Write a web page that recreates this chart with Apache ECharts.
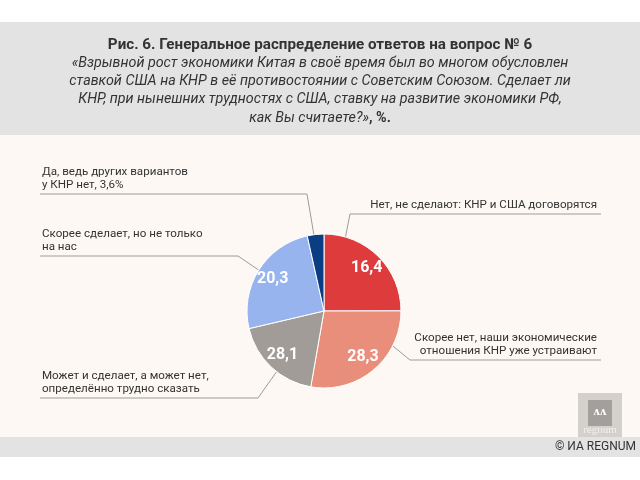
<!DOCTYPE html>
<html><head><meta charset="utf-8">
<script src="https://cdn.jsdelivr.net/npm/echarts@6/dist/echarts.min.js"></script>
<style>html,body{margin:0;padding:0;background:#fff}#c{width:640px;height:480px}</style>
</head><body><div id="c"></div>
<script>
// ---- data ----
const categories = [
  'Нет, не сделают: КНР и США договорятся',
  'Скорее нет, наши экономические\nотношения КНР уже устраивают',
  'Может и сделает, а может нет,\nопределённо трудно сказать',
  'Скорее сделает, но не только\nна нас',
  'Да, ведь других вариантов\nу КНР нет, 3,6%'
];
// values printed on the slices
const printedValues = ['16,4', '28,3', '28,1', '20,3', ''];
// slice sizes as actually drawn in the reference (measured slice angles, %)
const sliceShares = [25.0, 27.8, 18.6, 25.2, 3.5];
const colors = ['#de3b3d', '#ea8e7c', '#a19c97', '#97b4ee', '#0b3d83'];

const titleLine = 'Рис. 6. Генеральное распределение ответов на вопрос № 6';
const questionLines = [
  '«Взрывной рост экономики Китая в своё время был во многом обусловлен',
  'ставкой США на КНР в её противостоянии с Советским Союзом. Сделает ли',
  'КНР, при нынешних трудностях с США, ставку на развитие экономики РФ,',
  'как Вы считаете?»'
];

// ---- layout / style ----
const CX = 324, CY = 311, R = 77;
const FONT = 'Roboto';
const leaders = [
  {frac: 0.18, elbow: [350, 214], end: [601, 214], x: 597, y: 212, align: 'right'},
  {frac: 0.27, elbow: [410, 360], end: [601, 360], x: 597, y: 358, align: 'right'},
  {frac: 0.42, elbow: [258, 398], end: [40, 398], x: 42, y: 396, align: 'left'},
  {frac: 0.50, elbow: [238, 256], end: [40, 256], x: 42, y: 254, align: 'left'},
  {frac: 0.40, elbow: [307, 194], end: [40, 194], x: 42, y: 192, align: 'left'}
];

const chart = echarts.init(document.getElementById('c'), null, {renderer: 'canvas'});

const graphic = [
  {type: 'rect', z: -10, shape: {x: 0, y: 22, width: 640, height: 113}, style: {fill: '#e3e3e3'}},
  {type: 'rect', z: -10, shape: {x: 0, y: 135, width: 640, height: 302}, style: {fill: '#fdf8f3'}},
  {type: 'rect', z: -10, shape: {x: 0, y: 437, width: 640, height: 20}, style: {fill: '#e3e3e3'}},
  {type: 'text', x: 320, y: 45, style: {text: titleLine, font: 'bold 15.2px ' + FONT, fill: '#333', textAlign: 'center', textVerticalAlign: 'middle'}},
  {type: 'rect', z: -5, shape: {x: 578, y: 393, width: 44, height: 44}, style: {fill: '#c9c5c2', opacity: 0.8}},
  {type: 'rect', z: -4, shape: {x: 588, y: 400, width: 24, height: 26}, style: {fill: '#8e8a88', opacity: 0.7}},
  {type: 'text', x: 600, y: 412, style: {text: 'ʌʌ', font: 'bold 13px ' + FONT, fill: '#fff', textAlign: 'center', textVerticalAlign: 'middle'}},
  {type: 'text', x: 600, y: 430, style: {text: 'regnum', font: '11px serif', fill: '#f2f0ee', textAlign: 'center', textVerticalAlign: 'middle'}},
  {type: 'text', x: 636, y: 447, style: {text: '© ИА REGNUM', font: '12px ' + FONT, fill: '#333', textAlign: 'right', textVerticalAlign: 'middle'}}
];
questionLines.forEach(function (t, i) {
  const last = i === questionLines.length - 1;
  graphic.push({
    type: 'text', x: 320, y: 63.5 + i * 18.2,
    style: last ? {
      text: '{i|' + t + '}{b|, %.}',
      rich: {
        i: {font: 'italic 14.3px ' + FONT, fill: '#333'},
        b: {font: 'bold 14.3px ' + FONT, fill: '#333'}
      },
      textAlign: 'center', textVerticalAlign: 'middle'
    } : {text: t, font: 'italic 14.3px ' + FONT, fill: '#333', textAlign: 'center', textVerticalAlign: 'middle'}
  });
});

const total = sliceShares.reduce(function (a, b) { return a + b; }, 0);

chart.setOption({
  backgroundColor: '#ffffff',
  animation: false,
  graphic: graphic,
  series: [
    {
      type: 'pie', center: [CX, CY], radius: R, startAngle: 90, clockwise: true,
      avoidLabelOverlap: false, silent: true,
      data: categories.map(function (n, i) { return {name: n, value: sliceShares[i], itemStyle: {color: colors[i]}}; }),
      itemStyle: {borderColor: '#ffffff', borderWidth: 1},
      label: {show: true, position: 'outside', formatter: '{b}', color: '#333', fontFamily: FONT, fontSize: 11.6, lineHeight: 13, overflow: 'none'},
      labelLine: {show: true, length: 10, length2: 10, lineStyle: {color: '#9c9c9c', width: 1}},
      labelLayout: function (p) {
        const i = p.dataIndex, L = leaders[i];
        let cum = 0;
        for (let k = 0; k < i; k++) cum += sliceShares[k];
        const th = (cum + L.frac * sliceShares[i]) / total * 2 * Math.PI;
        const ax = CX + R * Math.sin(th), ay = CY - R * Math.cos(th);
        return {x: L.x, y: L.y, align: L.align, verticalAlign: 'bottom',
          labelLinePoints: [[ax, ay], L.elbow.slice(), L.end.slice()]};
      }
    },
    {
      type: 'pie', center: [CX, CY], radius: [38, R], startAngle: 90, clockwise: true,
      avoidLabelOverlap: false, silent: true, z: 3,
      data: sliceShares.map(function (v, i) { return {name: 'v' + i, value: v}; }),
      itemStyle: {color: 'rgba(0,0,0,0)', borderWidth: 0},
      label: {show: true, position: 'inside', formatter: function (p) { return printedValues[p.dataIndex]; },
        color: '#fff', fontFamily: FONT, fontSize: 16, fontWeight: 'bold'},
      labelLine: {show: false}
    }
  ]
});
</script>
</body></html>
